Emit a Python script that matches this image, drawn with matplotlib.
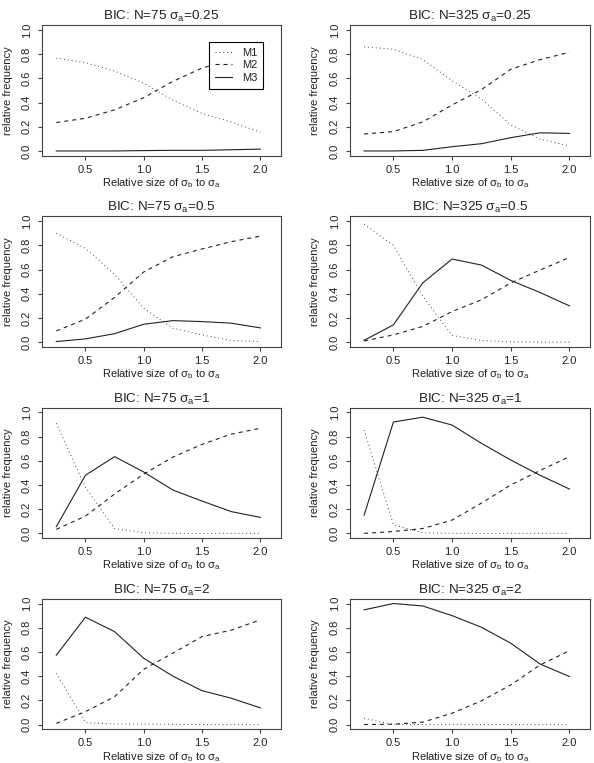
import matplotlib
matplotlib.use("Agg")
import matplotlib.pyplot as plt

plt.rcParams['font.family'] = ['Liberation Sans', 'DejaVu Sans']
plt.rcParams['mathtext.fontset'] = 'custom'
plt.rcParams['mathtext.rm'] = 'Liberation Sans'
plt.rcParams['mathtext.it'] = 'Liberation Sans'

# ratio of sigma_b to sigma_a
x_ratio = [0.25, 0.5, 0.75, 1.0, 1.25, 1.5, 1.75, 2.0]

# panel order: row by row, N=75 left, N=325 right
sample_n = [75, 325, 75, 325, 75, 325, 75, 325]
sigma_a = ['0.25', '0.25', '0.5', '0.5', '1', '1', '2', '2']

m1_freq = [
    [0.767, 0.73, 0.66, 0.56, 0.42, 0.31, 0.24, 0.155],
    [0.86, 0.84, 0.756, 0.58, 0.43, 0.215, 0.097, 0.042],
    [0.90, 0.775, 0.56, 0.28, 0.115, 0.06, 0.014, 0.005],
    [0.975, 0.80, 0.38, 0.055, 0.014, 0.003, 0.0, 0.0],
    [0.91, 0.38, 0.04, 0.005, 0.0, 0.0, 0.0, 0.0],
    [0.854, 0.07, 0.005, 0.0, 0.0, 0.0, 0.0, 0.0],
    [0.424, 0.016, 0.005, 0.003, 0.002, 0.0, 0.0, 0.0],
    [0.052, 0.0, 0.0, 0.0, 0.0, 0.0, 0.0, 0.0],
]
m2_freq = [
    [0.235, 0.27, 0.34, 0.44, 0.575, 0.685, 0.75, 0.83],
    [0.14, 0.16, 0.24, 0.38, 0.507, 0.675, 0.755, 0.815],
    [0.093, 0.19, 0.37, 0.58, 0.706, 0.77, 0.83, 0.876],
    [0.01, 0.06, 0.13, 0.253, 0.35, 0.49, 0.596, 0.70],
    [0.033, 0.143, 0.325, 0.49, 0.63, 0.735, 0.82, 0.868],
    [0.0, 0.015, 0.04, 0.11, 0.25, 0.40, 0.52, 0.634],
    [0.01, 0.107, 0.23, 0.457, 0.59, 0.727, 0.78, 0.865],
    [0.0, 0.003, 0.02, 0.094, 0.196, 0.328, 0.493, 0.61],
]
m3_freq = [
    [0.0, 0.0, 0.0, 0.003, 0.005, 0.005, 0.01, 0.015],
    [0.0, 0.0, 0.005, 0.035, 0.06, 0.11, 0.15, 0.145],
    [0.005, 0.027, 0.07, 0.148, 0.178, 0.17, 0.157, 0.118],
    [0.015, 0.143, 0.49, 0.687, 0.637, 0.51, 0.41, 0.30],
    [0.055, 0.48, 0.634, 0.507, 0.358, 0.267, 0.18, 0.132],
    [0.15, 0.92, 0.96, 0.895, 0.744, 0.606, 0.48, 0.366],
    [0.573, 0.887, 0.768, 0.548, 0.40, 0.28, 0.218, 0.138],
    [0.948, 1.0, 0.98, 0.90, 0.804, 0.672, 0.50, 0.397],
]

W, H = 594, 763
fig = plt.figure(figsize=(W / 100, H / 100), dpi=100)

col_left = [42.3, 350.0]
col_width = [238.4, 240.0]
box_h = 130.7
row_step = 191.2
lw = 0.8
line_col = '#222222'
txt_col = '#222222'

for i in range(8):
    r, c = divmod(i, 2)
    bottom_px = 155.8 + row_step * r
    ax = fig.add_axes([col_left[c] / W, 1 - bottom_px / H,
                       col_width[c] / W, box_h / H])

    ax.plot(x_ratio, m1_freq[i], color='#444444', lw=0.7, dashes=(1.0, 3.0), label='M1')
    ax.plot(x_ratio, m2_freq[i], color=line_col, lw=lw, dashes=(3.6, 3.6), label='M2')
    ax.plot(x_ratio, m3_freq[i], color=line_col, lw=lw, label='M3')

    ax.set_xlim(0.13, 2.175)
    ax.set_ylim(-0.04, 1.04)
    ax.set_xticks([0.5, 1.0, 1.5, 2.0])
    ax.set_xticklabels(['0.5', '1.0', '1.5', '2.0'])
    ax.set_yticks([0.0, 0.2, 0.4, 0.6, 0.8, 1.0])
    ax.set_yticklabels(['0.0', '0.2', '0.4', '0.6', '0.8', '1.0'],
                       rotation=90, va='center')
    ax.tick_params(length=2.9, width=lw, color='#444444', labelsize=8,
                   labelcolor=txt_col, pad=3.5)
    ax.tick_params(axis='y', pad=4.5)
    for sp in ax.spines.values():
        sp.set_color('#444444')
        sp.set_linewidth(lw)

    ax.text(0.5, 1 + 5 / box_h,
            r'BIC: N=%d σ$_{\rm a}$=%s' % (sample_n[i], sigma_a[i]),
            transform=ax.transAxes, ha='center', va='baseline',
            fontsize=9.7, color=txt_col)
    ax.text(0.5, -30.5 / box_h,
            r'Relative size of σ$_{\rm b}$ to σ$_{\rm a}$',
            transform=ax.transAxes, ha='center', va='baseline',
            fontsize=8, color=txt_col)
    ax.text(-34.8 / col_width[c], 0.5, 'relative frequency',
            transform=ax.transAxes, ha='center', va='center',
            rotation=90, fontsize=8, color=txt_col)

    if i == 0:
        leg = ax.legend(loc='upper right', bbox_to_anchor=(0.926, 0.871),
                        fontsize=8, frameon=True, fancybox=False,
                        framealpha=1, edgecolor='black', borderaxespad=0,
                        handlelength=1.55, handletextpad=0.9,
                        labelspacing=0.25, borderpad=0.5)
        leg.get_frame().set_linewidth(lw)
        for t in leg.get_texts():
            t.set_color(txt_col)

fig.savefig('out.png', dpi=100)
